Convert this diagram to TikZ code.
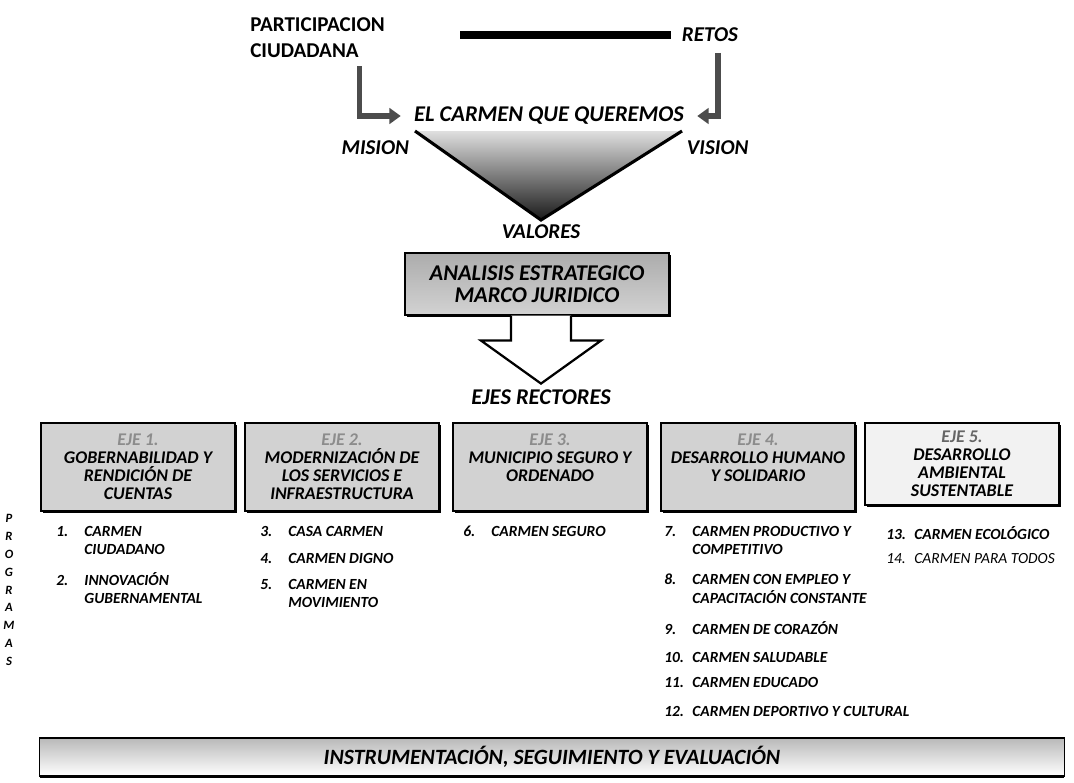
\documentclass[tikz,border=0pt]{standalone}
\usepackage{fontspec}
\setmainfont{Carlito}
\usetikzlibrary{arrows.meta,shadows,calc}
\newcommand\pnum[1]{\makebox[20pt][l]{#1}}

\begin{document}
\begin{tikzpicture}[x=0.025cm,y=-0.025cm,
	head/.style={font=\fontsize{15}{18}\selectfont\bfseries\itshape},
	bighead/.style={font=\fontsize{16}{18}\selectfont\bfseries\itshape},
	turn/.style={line width=4pt,draw=black!70,shorten >=6pt,-{Triangle[length=8pt,width=11pt]}},
	ejebox/.style={rectangle,draw=black,line width=0.8pt,fill=gray!35,minimum width=4.85cm,minimum height=2.2cm,align=center,font=\fontsize{12.7}{12.8}\selectfont\bfseries\itshape,drop shadow={shadow xshift=1.3pt,shadow yshift=-1.3pt,opacity=1,fill=black}},
	prog/.style={anchor=north west,align=left,inner sep=0pt,font=\fontsize{11}{13}\selectfont\bfseries\itshape}]
	\useasboundingbox[fill=white] (0,0) rectangle (1074,783);

	% top
	\node[font=\fontsize{15}{19}\selectfont\bfseries,align=left,anchor=north west,inner sep=0pt] (part) at (250,17) {PARTICIPACION\\CIUDADANA};
	\node[head] (retos) at (710,35) {RETOS};
	\coordinate (barl) at (460,35);
	\draw[line width=6pt,shorten >=4pt] (barl) -- (retos.west);
	\node[bighead] (carmen) at (549,116) {EL CARMEN QUE QUEREMOS};
	\draw[turn] ($(part.south)+(42,8)$) |- (carmen.west);
	\draw[turn] ($(retos.south)+(8,6)$) |- (carmen.east);

	% triangulo
	\coordinate (tl) at (415,131);
	\coordinate (tr) at (682,131);
	\coordinate (tb) at (541,220);
	\shade[top color=gray!25,bottom color=black!90] (tl) -- (tr) -- (tb) -- cycle;
	\draw[line width=2.2pt] (tl) -- (tb) -- (tr);
	\node[head,anchor=east] (mision) at (414,148) {MISION};
	\node[head,anchor=west] (vision) at (682,148) {VISION};
	\node[head] (valores) at (541,232) {VALORES};

	% analisis
	\node[rectangle,draw=black,line width=0.8pt,top color=gray!65,bottom color=gray!35,minimum width=6.6cm,minimum height=1.55cm,align=center,font=\fontsize{16}{16}\selectfont\bfseries\itshape,drop shadow={shadow xshift=1.5pt,shadow yshift=-1.5pt,opacity=1,fill=black}] (ana) at (537,284) {ANALISIS ESTRATEGICO\\MARCO JURIDICO};
	\coordinate (tip) at ($(ana.south)+(4,68)$);
	\draw[line width=1.6pt,fill=white] ($(ana.south)+(-26,0)$) -- ($(ana.south)+(-26,25)$) -- ($(ana.south)+(-56,25)$) -- (tip) -- ($(ana.south)+(64,25)$) -- ($(ana.south)+(34,25)$) -- ($(ana.south)+(34,0)$);
	\node[bighead] (ejes) at (541,397) {EJES RECTORES};

	% ejes
	\node[ejebox] (eje1) at (138,467) {{\color{black!45}EJE 1.}\\GOBERNABILIDAD Y\\RENDICIÓN DE\\CUENTAS};
	\node[ejebox] (eje2) at (342,467) {{\color{black!45}EJE 2.}\\MODERNIZACIÓN DE\\LOS SERVICIOS E\\INFRAESTRUCTURA};
	\node[ejebox] (eje3) at (550,467) {{\color{black!45}EJE 3.}\\MUNICIPIO SEGURO Y\\ORDENADO\\\mbox{}};
	\node[ejebox] (eje4) at (758,467) {{\color{black!45}EJE 4.}\\DESARROLLO HUMANO\\Y SOLIDARIO\\\mbox{}};
	\node[ejebox,fill=gray!10,minimum height=2.05cm] (eje5) at (962,464) {{\color{black!60}EJE 5.}\\DESARROLLO\\AMBIENTAL\\SUSTENTABLE};

	% programas
	\node[align=center,font=\fontsize{9}{12.7}\selectfont\bfseries\itshape] (programas) at (9,590) {P\\R\\O\\G\\R\\A\\M\\A\\S};
	\node[prog] (p1) at (56,526) {\pnum{1.}CARMEN\\\pnum{}CIUDADANO};
	\node[prog] (p2) at (56,572) {\pnum{2.}INNOVACIÓN\\\pnum{}GUBERNAMENTAL};
	\node[prog] (p3) at (260,526) {\pnum{3.}CASA CARMEN};
	\node[prog] (p4) at (260,553) {\pnum{4.}CARMEN DIGNO};
	\node[prog] (p5) at (260,579) {\pnum{5.}CARMEN EN\\\pnum{}MOVIMIENTO};
	\node[prog] (p6) at (463,526) {\pnum{6.}CARMEN SEGURO};
	\node[prog] (p7) at (664,526) {\pnum{7.}CARMEN PRODUCTIVO Y\\\pnum{}COMPETITIVO};
	\node[prog] (p8) at (664,574) {\pnum{8.}CARMEN CON EMPLEO Y\\\pnum{}CAPACITACIÓN CONSTANTE};
	\node[prog] (p9) at (664,621) {\pnum{9.}CARMEN DE CORAZÓN};
	\node[prog] (p10) at (664,652) {\pnum{10.}CARMEN SALUDABLE};
	\node[prog] (p11) at (664,677) {\pnum{11.}CARMEN EDUCADO};
	\node[prog] (p12) at (664,706) {\pnum{12.}CARMEN DEPORTIVO Y CULTURAL};
	\node[prog] (p13) at (886,526) {\pnum{13.}CARMEN ECOLÓGICO};
	\node[prog,font=\fontsize{11}{13}\selectfont\itshape] (p14) at (886,553) {\pnum{14.}CARMEN PARA TODOS};

	% barra final
	\node[rectangle,draw=black,line width=0.8pt,top color=gray!55,middle color=white,bottom color=white,minimum width=25.6cm,minimum height=0.95cm,font=\fontsize{15.5}{16}\selectfont\bfseries\itshape,drop shadow={shadow xshift=0pt,shadow yshift=-1.5pt,opacity=1,fill=black}] (instr) at (552,757) {INSTRUMENTACIÓN, SEGUIMIENTO Y EVALUACIÓN};
\end{tikzpicture}
\end{document}
